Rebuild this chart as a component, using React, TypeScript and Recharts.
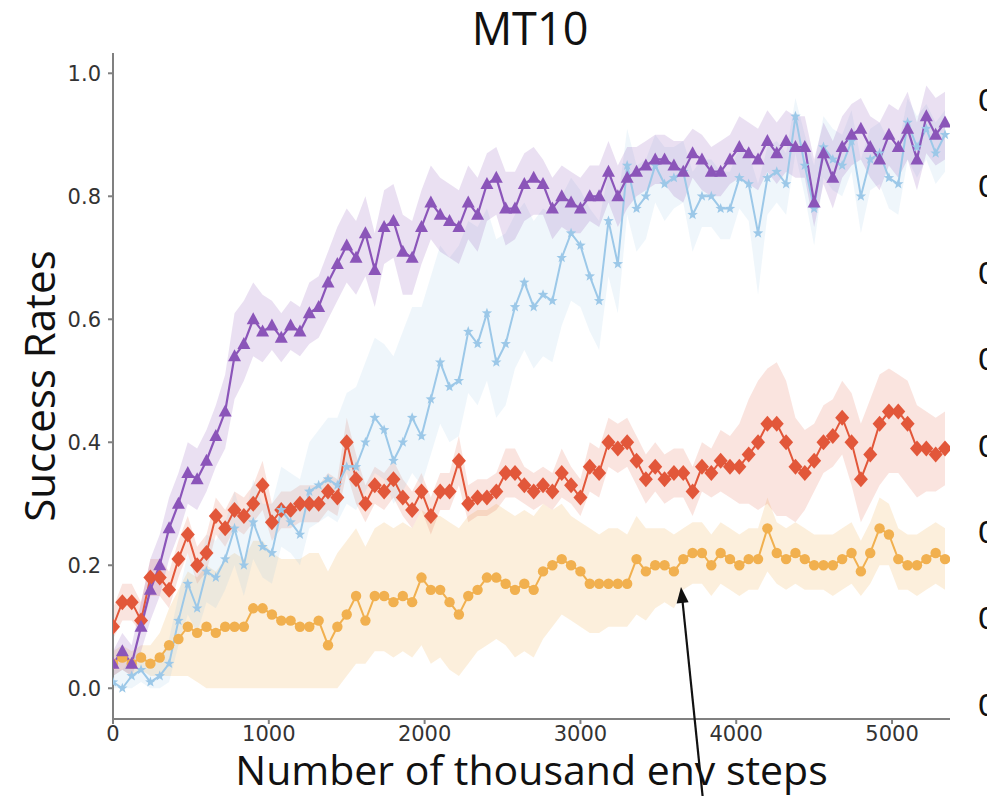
import React from 'react';
import { ComposedChart, Area, Line, XAxis, YAxis, Label } from 'recharts';

// evaluation points, thousand env steps
const STEPS = [
  0, 60, 120, 180, 240, 300, 360, 420, 480, 540, 600, 660, 720, 780, 840, 900, 960, 1020, 1080, 1140,
  1200, 1260, 1320, 1380, 1440, 1500, 1560, 1620, 1680, 1740, 1800, 1860, 1920, 1980, 2040, 2100, 2160,
  2220, 2280, 2340, 2400, 2460, 2520, 2580, 2640, 2700, 2760, 2820, 2880, 2940, 3000, 3060, 3120, 3180,
  3240, 3300, 3360, 3420, 3480, 3540, 3600, 3660, 3720, 3780, 3840, 3900, 3960, 4020, 4080, 4140, 4200,
  4260, 4320, 4380, 4440, 4500, 4560, 4620, 4680, 4740, 4800, 4860, 4920, 4980, 5040, 5100, 5160, 5220,
  5280, 5340,
];

// purple (triangles)
const PURPLE_MEAN = [
  0.04, 0.06, 0.04, 0.10, 0.16, 0.20, 0.26, 0.30, 0.35, 0.34,
  0.37, 0.41, 0.45, 0.54, 0.56, 0.60, 0.58, 0.59, 0.57, 0.59,
  0.58, 0.61, 0.62, 0.66, 0.69, 0.72, 0.70, 0.74, 0.68, 0.75,
  0.76, 0.71, 0.70, 0.75, 0.79, 0.77, 0.76, 0.75, 0.79, 0.77,
  0.82, 0.83, 0.78, 0.78, 0.82, 0.83, 0.82, 0.78, 0.80, 0.79,
  0.78, 0.80, 0.80, 0.84, 0.80, 0.83, 0.84, 0.85, 0.86, 0.86,
  0.85, 0.84, 0.87, 0.86, 0.84, 0.84, 0.86, 0.88, 0.87, 0.86,
  0.89, 0.87, 0.89, 0.88, 0.88, 0.79, 0.87, 0.83, 0.88, 0.90,
  0.91, 0.88, 0.86, 0.90, 0.88, 0.91, 0.86, 0.93, 0.90, 0.92,
];
const PURPLE_LO = [
  0.02, 0.03, 0.02, 0.06, 0.11, 0.15, 0.21, 0.25, 0.30, 0.29,
  0.32, 0.36, 0.39, 0.47, 0.50, 0.54, 0.53, 0.55, 0.53, 0.55,
  0.54, 0.56, 0.57, 0.60, 0.63, 0.66, 0.64, 0.67, 0.62, 0.69,
  0.70, 0.64, 0.64, 0.69, 0.73, 0.71, 0.70, 0.69, 0.73, 0.71,
  0.76, 0.77, 0.72, 0.73, 0.76, 0.77, 0.77, 0.73, 0.75, 0.74,
  0.74, 0.76, 0.75, 0.79, 0.75, 0.78, 0.80, 0.81, 0.82, 0.82,
  0.80, 0.79, 0.83, 0.81, 0.80, 0.80, 0.82, 0.83, 0.82, 0.81,
  0.84, 0.82, 0.84, 0.83, 0.83, 0.75, 0.82, 0.78, 0.83, 0.85,
  0.86, 0.83, 0.81, 0.85, 0.83, 0.86, 0.81, 0.87, 0.85, 0.86,
];
const PURPLE_HI = [
  0.06, 0.09, 0.07, 0.14, 0.21, 0.25, 0.31, 0.35, 0.40, 0.39,
  0.42, 0.46, 0.51, 0.61, 0.63, 0.66, 0.64, 0.63, 0.61, 0.63,
  0.62, 0.66, 0.67, 0.71, 0.75, 0.78, 0.76, 0.80, 0.74, 0.81,
  0.82, 0.77, 0.76, 0.81, 0.85, 0.83, 0.82, 0.81, 0.85, 0.83,
  0.87, 0.88, 0.84, 0.84, 0.87, 0.88, 0.86, 0.83, 0.85, 0.84,
  0.83, 0.85, 0.85, 0.89, 0.85, 0.88, 0.88, 0.89, 0.90, 0.90,
  0.89, 0.89, 0.91, 0.90, 0.88, 0.89, 0.90, 0.93, 0.92, 0.91,
  0.94, 0.92, 0.94, 0.93, 0.93, 0.86, 0.92, 0.89, 0.93, 0.95,
  0.96, 0.93, 0.92, 0.95, 0.94, 0.97, 0.92, 0.98, 0.96, 0.97,
];

// light blue (stars)
const BLUE_MEAN = [
  0.01, 0.00, 0.02, 0.03, 0.01, 0.02, 0.04, 0.11, 0.17, 0.13,
  0.19, 0.18, 0.21, 0.26, 0.20, 0.27, 0.23, 0.22, 0.29, 0.27,
  0.25, 0.32, 0.33, 0.34, 0.33, 0.36, 0.36, 0.40, 0.44, 0.42,
  0.37, 0.40, 0.44, 0.41, 0.47, 0.53, 0.49, 0.50, 0.58, 0.56,
  0.61, 0.53, 0.56, 0.62, 0.66, 0.62, 0.64, 0.63, 0.70, 0.74,
  0.72, 0.67, 0.63, 0.76, 0.69, 0.85, 0.78, 0.80, 0.85, 0.82,
  0.83, 0.84, 0.77, 0.80, 0.80, 0.78, 0.78, 0.83, 0.82, 0.74,
  0.83, 0.84, 0.82, 0.93, 0.85, 0.78, 0.88, 0.86, 0.85, 0.89,
  0.80, 0.86, 0.87, 0.83, 0.82, 0.92, 0.88, 0.91, 0.87, 0.90,
];
const BLUE_LO = [
  0.00, 0.00, 0.00, 0.01, 0.00, 0.00, 0.01, 0.07, 0.12, 0.09,
  0.14, 0.13, 0.16, 0.20, 0.15, 0.21, 0.18, 0.17, 0.23, 0.22,
  0.20, 0.26, 0.27, 0.28, 0.27, 0.30, 0.29, 0.32, 0.35, 0.34,
  0.30, 0.32, 0.35, 0.33, 0.38, 0.43, 0.40, 0.41, 0.48, 0.46,
  0.50, 0.44, 0.46, 0.52, 0.55, 0.52, 0.54, 0.53, 0.59, 0.63,
  0.62, 0.58, 0.55, 0.67, 0.61, 0.77, 0.71, 0.73, 0.79, 0.76,
  0.78, 0.79, 0.71, 0.75, 0.75, 0.73, 0.73, 0.78, 0.76, 0.64,
  0.77, 0.79, 0.77, 0.87, 0.80, 0.72, 0.83, 0.81, 0.80, 0.84,
  0.74, 0.81, 0.82, 0.78, 0.77, 0.86, 0.83, 0.86, 0.82, 0.84,
];
const BLUE_HI = [
  0.03, 0.03, 0.05, 0.06, 0.04, 0.05, 0.08, 0.15, 0.22, 0.18,
  0.25, 0.24, 0.27, 0.32, 0.27, 0.34, 0.30, 0.30, 0.36, 0.35,
  0.34, 0.40, 0.42, 0.44, 0.44, 0.48, 0.49, 0.53, 0.57, 0.56,
  0.54, 0.58, 0.62, 0.62, 0.67, 0.72, 0.70, 0.72, 0.76, 0.75,
  0.78, 0.73, 0.74, 0.77, 0.79, 0.76, 0.78, 0.77, 0.80, 0.83,
  0.81, 0.78, 0.76, 0.84, 0.79, 0.91, 0.85, 0.86, 0.90, 0.88,
  0.88, 0.89, 0.84, 0.86, 0.86, 0.84, 0.84, 0.88, 0.87, 0.82,
  0.88, 0.89, 0.87, 0.96, 0.90, 0.85, 0.93, 0.91, 0.90, 0.94,
  0.86, 0.91, 0.92, 0.89, 0.88, 0.96, 0.93, 0.95, 0.92, 0.94,
];

// red (diamonds)
const RED_MEAN = [
  0.10, 0.14, 0.14, 0.11, 0.18, 0.18, 0.16, 0.21, 0.25, 0.20,
  0.22, 0.28, 0.26, 0.29, 0.28, 0.30, 0.33, 0.27, 0.29, 0.29,
  0.30, 0.30, 0.30, 0.32, 0.31, 0.40, 0.34, 0.30, 0.33, 0.32,
  0.34, 0.31, 0.29, 0.32, 0.28, 0.32, 0.32, 0.37, 0.30, 0.31,
  0.31, 0.32, 0.35, 0.35, 0.33, 0.32, 0.33, 0.32, 0.35, 0.33,
  0.31, 0.36, 0.35, 0.40, 0.39, 0.40, 0.37, 0.34, 0.36, 0.34,
  0.35, 0.35, 0.32, 0.36, 0.35, 0.37, 0.36, 0.36, 0.38, 0.40,
  0.43, 0.43, 0.40, 0.36, 0.35, 0.37, 0.40, 0.41, 0.44, 0.40,
  0.34, 0.38, 0.43, 0.45, 0.45, 0.43, 0.39, 0.39, 0.38, 0.39,
];
const RED_LO = [
  0.08, 0.11, 0.11, 0.09, 0.15, 0.15, 0.13, 0.18, 0.22, 0.17,
  0.19, 0.25, 0.23, 0.26, 0.25, 0.27, 0.29, 0.24, 0.26, 0.26,
  0.27, 0.27, 0.27, 0.29, 0.28, 0.35, 0.30, 0.27, 0.30, 0.29,
  0.31, 0.28, 0.26, 0.29, 0.25, 0.29, 0.29, 0.33, 0.27, 0.28,
  0.28, 0.29, 0.31, 0.31, 0.30, 0.29, 0.30, 0.29, 0.31, 0.30,
  0.28, 0.32, 0.31, 0.36, 0.35, 0.36, 0.33, 0.30, 0.32, 0.30,
  0.31, 0.31, 0.28, 0.32, 0.31, 0.32, 0.31, 0.30, 0.30, 0.29,
  0.30, 0.28, 0.28, 0.27, 0.29, 0.32, 0.35, 0.36, 0.38, 0.33,
  0.27, 0.30, 0.33, 0.35, 0.35, 0.33, 0.31, 0.32, 0.32, 0.33,
];
const RED_HI = [
  0.13, 0.17, 0.17, 0.14, 0.21, 0.21, 0.19, 0.24, 0.28, 0.23,
  0.25, 0.31, 0.29, 0.32, 0.31, 0.33, 0.37, 0.30, 0.32, 0.32,
  0.33, 0.33, 0.33, 0.35, 0.34, 0.44, 0.38, 0.33, 0.36, 0.35,
  0.37, 0.34, 0.32, 0.35, 0.31, 0.35, 0.35, 0.41, 0.33, 0.34,
  0.34, 0.35, 0.39, 0.39, 0.36, 0.35, 0.36, 0.35, 0.39, 0.36,
  0.34, 0.40, 0.39, 0.44, 0.43, 0.44, 0.41, 0.38, 0.40, 0.38,
  0.39, 0.39, 0.36, 0.40, 0.39, 0.42, 0.41, 0.43, 0.47, 0.50,
  0.52, 0.53, 0.50, 0.44, 0.42, 0.43, 0.46, 0.47, 0.50, 0.48,
  0.43, 0.47, 0.51, 0.52, 0.51, 0.50, 0.46, 0.45, 0.44, 0.45,
];

// orange (circles)
const ORANGE_MEAN = [
  0.04, 0.05, 0.04, 0.05, 0.04, 0.05, 0.07, 0.08, 0.10, 0.09,
  0.10, 0.09, 0.10, 0.10, 0.10, 0.13, 0.13, 0.12, 0.11, 0.11,
  0.10, 0.10, 0.11, 0.07, 0.10, 0.12, 0.15, 0.11, 0.15, 0.15,
  0.14, 0.15, 0.14, 0.18, 0.16, 0.16, 0.14, 0.12, 0.15, 0.16,
  0.18, 0.18, 0.17, 0.16, 0.17, 0.16, 0.19, 0.20, 0.21, 0.20,
  0.19, 0.17, 0.17, 0.17, 0.17, 0.17, 0.21, 0.19, 0.20, 0.20,
  0.19, 0.21, 0.22, 0.22, 0.20, 0.22, 0.21, 0.20, 0.21, 0.21,
  0.26, 0.22, 0.21, 0.22, 0.21, 0.20, 0.20, 0.20, 0.21, 0.22,
  0.19, 0.22, 0.26, 0.25, 0.21, 0.20, 0.20, 0.21, 0.22, 0.21,
];
const ORANGE_LO = [
  0.02, 0.03, 0.02, 0.03, 0.02, 0.02, 0.02, 0.02, 0.02, 0.01,
  0.00, 0.00, 0.00, 0.00, 0.00, 0.00, 0.00, 0.00, 0.00, 0.00,
  0.00, 0.00, 0.00, 0.00, 0.00, 0.02, 0.04, 0.04, 0.06, 0.06,
  0.05, 0.06, 0.05, 0.07, 0.04, 0.05, 0.03, 0.02, 0.04, 0.06,
  0.07, 0.08, 0.07, 0.05, 0.06, 0.05, 0.08, 0.10, 0.12, 0.11,
  0.10, 0.09, 0.09, 0.10, 0.10, 0.10, 0.12, 0.11, 0.13, 0.14,
  0.13, 0.16, 0.17, 0.17, 0.15, 0.17, 0.16, 0.15, 0.16, 0.16,
  0.19, 0.17, 0.16, 0.17, 0.16, 0.16, 0.16, 0.15, 0.16, 0.17,
  0.15, 0.17, 0.20, 0.20, 0.16, 0.16, 0.15, 0.16, 0.17, 0.16,
];
const ORANGE_HI = [
  0.06, 0.07, 0.06, 0.07, 0.07, 0.09, 0.13, 0.16, 0.19, 0.18,
  0.20, 0.19, 0.21, 0.22, 0.21, 0.24, 0.24, 0.22, 0.21, 0.21,
  0.21, 0.22, 0.22, 0.19, 0.22, 0.24, 0.26, 0.23, 0.26, 0.27,
  0.26, 0.27, 0.26, 0.29, 0.28, 0.28, 0.27, 0.26, 0.28, 0.29,
  0.29, 0.30, 0.29, 0.28, 0.29, 0.28, 0.30, 0.29, 0.30, 0.28,
  0.27, 0.26, 0.25, 0.26, 0.26, 0.25, 0.28, 0.26, 0.26, 0.26,
  0.25, 0.26, 0.27, 0.27, 0.25, 0.27, 0.26, 0.25, 0.26, 0.26,
  0.31, 0.27, 0.26, 0.27, 0.26, 0.25, 0.25, 0.25, 0.26, 0.27,
  0.24, 0.27, 0.31, 0.30, 0.26, 0.25, 0.25, 0.26, 0.27, 0.26,
];

const X_TICKS = [0, 1000, 2000, 3000, 4000, 5000];
const Y_TICKS = [0, 0.2, 0.4, 0.6, 0.8, 1.0];
// tick labels of the next panel, cut off at the right edge
const NEXT_PANEL_LABELS = ['0', '0', '0', '0', '0', '0', '0', '0'];

const PURPLE = '#8b55b9';
const BLUE = '#9cc8e8';
const RED = '#e2573a';
const ORANGE = '#f1b04f';
const AXIS = '#808080';

const rows = STEPS.map((step, i) => ({
  step,
  purple: PURPLE_MEAN[i],
  purpleBand: [PURPLE_LO[i], PURPLE_HI[i]],
  blue: BLUE_MEAN[i],
  blueBand: [BLUE_LO[i], BLUE_HI[i]],
  red: RED_MEAN[i],
  redBand: [RED_LO[i], RED_HI[i]],
  orange: ORANGE_MEAN[i],
  orangeBand: [ORANGE_LO[i], ORANGE_HI[i]],
}));

const triangleDot = (color: string) => (p: any) => {
  if (p.cx == null || p.cy == null) return <g key={`t-${p.index}`} />;
  const { cx, cy } = p;
  return <path key={`t-${p.index}`} d={`M${cx},${cy - 7}L${cx + 6.5},${cy + 5}L${cx - 6.5},${cy + 5}Z`} fill={color} />;
};

const diamondDot = (color: string) => (p: any) => {
  if (p.cx == null || p.cy == null) return <g key={`d-${p.index}`} />;
  const { cx, cy } = p;
  return <path key={`d-${p.index}`} d={`M${cx},${cy - 8}L${cx + 7},${cy}L${cx},${cy + 8}L${cx - 7},${cy}Z`} fill={color} />;
};

const circleDot = (color: string) => (p: any) => {
  if (p.cx == null || p.cy == null) return <g key={`c-${p.index}`} />;
  return <circle key={`c-${p.index}`} cx={p.cx} cy={p.cy} r={5.2} fill={color} />;
};

const starDot = (color: string) => (p: any) => {
  if (p.cx == null || p.cy == null) return <g key={`s-${p.index}`} />;
  const { cx, cy } = p;
  let d = '';
  for (let k = 0; k < 10; k++) {
    const r = k % 2 === 0 ? 5.5 : 2.3;
    const a = -Math.PI / 2 + (k * Math.PI) / 5;
    d += `${k === 0 ? 'M' : 'L'}${cx + r * Math.cos(a)},${cy + r * Math.sin(a)}`;
  }
  return <path key={`s-${p.index}`} d={d + 'Z'} fill={color} />;
};

const tickStyle = { fill: '#333', fontSize: 21, fontFamily: 'DejaVu Sans' };
const labelFont = 'Open Sans';

export default function App() {
  return (
    <div style={{ position: 'absolute', left: 0, top: 0, width: 987, height: 796, overflow: 'hidden', background: '#fff' }}>
      <ComposedChart width={987} height={796} data={rows} margin={{ top: 53, right: 37, bottom: 0, left: 0 }}>
        <XAxis
          dataKey="step"
          type="number"
          domain={[0, 5372]}
          ticks={X_TICKS}
          allowDataOverflow
          height={77}
          stroke={AXIS}
          strokeWidth={2}
          tickSize={5}
          tickMargin={2}
          tick={tickStyle}
        >
          <Label
            value="Number of thousand env steps"
            position="insideBottom"
            offset={11}
            style={{ fontSize: 41, fontFamily: labelFont, fill: '#111' }}
          />
        </XAxis>
        <YAxis
          type="number"
          domain={[-0.05, 1.033]}
          ticks={Y_TICKS}
          allowDataOverflow
          width={113}
          stroke={AXIS}
          strokeWidth={2}
          tickSize={5}
          tickMargin={7}
          tick={tickStyle}
          tickFormatter={(v: number) => v.toFixed(1)}
        >
          <Label
            value="Success Rates"
            angle={-90}
            position="insideLeft"
            offset={40}
            style={{ fontSize: 42, fontFamily: labelFont, fill: '#111', textAnchor: 'middle' }}
          />
        </YAxis>

        <Area dataKey="orangeBand" type="linear" stroke="none" fill={ORANGE} fillOpacity={0.2} isAnimationActive={false} />
        <Area dataKey="redBand" type="linear" stroke="none" fill={RED} fillOpacity={0.16} isAnimationActive={false} />
        <Area dataKey="blueBand" type="linear" stroke="none" fill={BLUE} fillOpacity={0.16} isAnimationActive={false} />
        <Area dataKey="purpleBand" type="linear" stroke="none" fill={PURPLE} fillOpacity={0.18} isAnimationActive={false} />

        <Line dataKey="orange" type="linear" stroke={ORANGE} strokeWidth={2} dot={circleDot(ORANGE)} isAnimationActive={false} />
        <Line dataKey="red" type="linear" stroke={RED} strokeWidth={2} dot={diamondDot(RED)} isAnimationActive={false} />
        <Line dataKey="blue" type="linear" stroke={BLUE} strokeWidth={2} dot={starDot(BLUE)} isAnimationActive={false} />
        <Line dataKey="purple" type="linear" stroke={PURPLE} strokeWidth={2.2} dot={triangleDot(PURPLE)} isAnimationActive={false} />
      </ComposedChart>

      <svg width={987} height={796} style={{ position: 'absolute', left: 0, top: 0, pointerEvents: 'none' }}>
        <text x={530} y={45} textAnchor="middle" fontSize={45} fontFamily={labelFont} fill="#111">MT10</text>
        {NEXT_PANEL_LABELS.map((t, i) => (
          <text key={i} x={977.5} y={111 + i * 86.4} fontSize={30} fontFamily="DejaVu Sans" fill="#111">{t}</text>
        ))}
        <line x1={703} y1={800} x2={682.6} y2={602} stroke="#111" strokeWidth={2.2} />
        <polygon points="681,587 688.6,602.3 676.6,603.5" fill="#111" />
      </svg>
    </div>
  );
}
